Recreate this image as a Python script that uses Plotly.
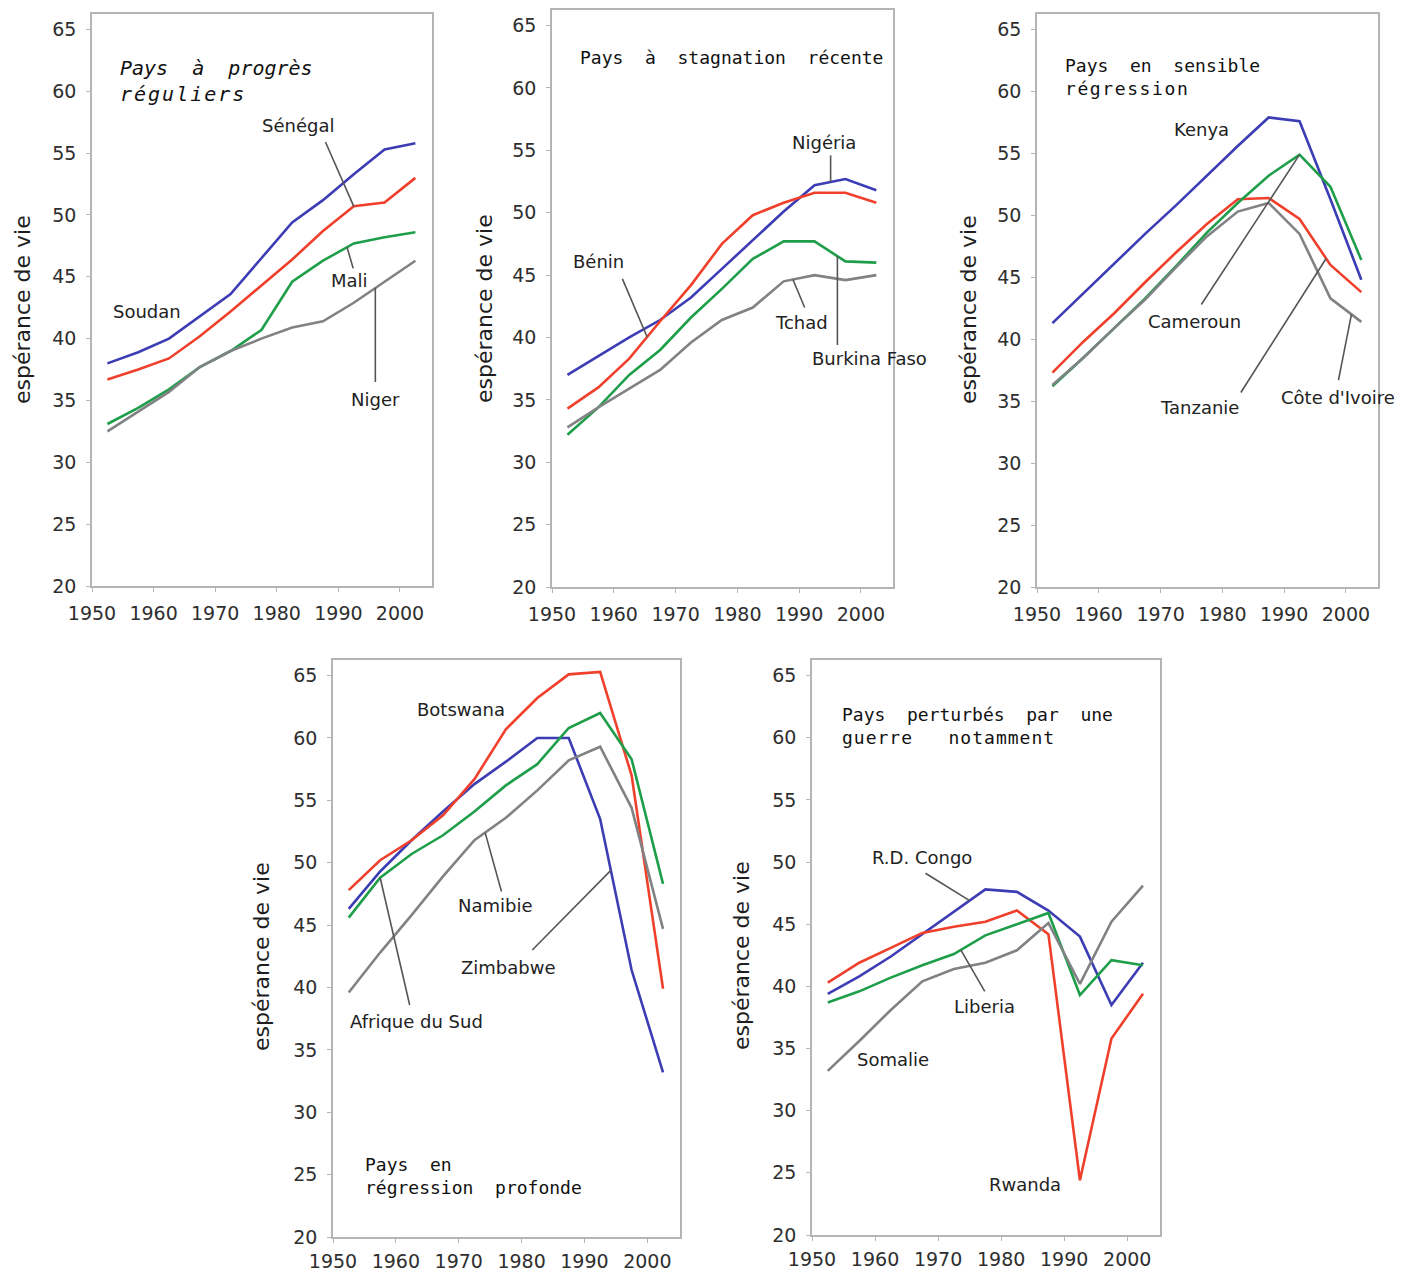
import numpy as np
import plotly.graph_objects as go

years = [1952.5, 1957.5, 1962.5, 1967.5, 1972.5, 1977.5, 1982.5, 1987.5, 1992.5, 1997.5, 2002.5]
x_ticks = [1950, 1960, 1970, 1980, 1990, 2000]
y_ticks = [20, 25, 30, 35, 40, 45, 50, 55, 60, 65]

# Panel 1 : Pays à progrès réguliers
soudan = [38.0, 38.9, 40.0, 41.8, 43.6, 46.5, 49.4, 51.2, 53.3, 55.3, 55.8]
senegal = [36.7, 37.5, 38.4, 40.2, 42.2, 44.3, 46.4, 48.7, 50.7, 51.0, 53.0]
mali = [33.1, 34.4, 35.9, 37.7, 39.0, 40.7, 44.6, 46.3, 47.7, 48.2, 48.6]
niger = [32.5, 34.1, 35.7, 37.7, 39.0, 40.0, 40.9, 41.4, 42.9, 44.6, 46.3]

# Panel 2 : Pays à stagnation récente
nigeria = [37.0, 38.5, 40.0, 41.4, 43.2, 45.5, 47.8, 50.1, 52.2, 52.7, 51.8]
benin = [34.3, 36.0, 38.3, 41.3, 44.2, 47.5, 49.8, 50.8, 51.6, 51.6, 50.8]
burkina = [32.2, 34.4, 37.0, 39.0, 41.6, 43.9, 46.3, 47.7, 47.7, 46.1, 46.0]
tchad = [32.8, 34.4, 35.9, 37.4, 39.6, 41.4, 42.4, 44.5, 45.0, 44.6, 45.0]

# Panel 3 : Pays en sensible régression
kenya = [41.3, 43.7, 46.1, 48.5, 50.8, 53.2, 55.6, 57.9, 57.6, 51.3, 44.8]
tanzanie = [37.3, 39.8, 42.1, 44.6, 47.0, 49.3, 51.3, 51.4, 49.7, 46.0, 43.8]
cameroun = [36.2, 38.5, 40.9, 43.3, 45.9, 48.6, 51.0, 53.2, 54.9, 52.3, 46.4]
cote_ivoire = [36.3, 38.5, 40.9, 43.2, 45.8, 48.3, 50.3, 51.0, 48.5, 43.3, 41.4]

# Panel 4 : Pays en régression profonde
zimbabwe = [46.3, 49.3, 51.8, 54.1, 56.3, 58.1, 60.0, 60.0, 53.5, 41.4, 33.2]
botswana = [47.8, 50.2, 51.8, 53.8, 56.7, 60.7, 63.2, 65.1, 65.3, 57.0, 39.9]
afrique_sud = [45.6, 48.8, 50.7, 52.2, 54.1, 56.2, 57.9, 60.8, 62.0, 58.3, 48.3]
namibie = [39.6, 42.8, 45.8, 48.9, 51.8, 53.6, 55.8, 58.2, 59.3, 54.4, 44.7]

# Panel 5 : Pays perturbés par une guerre notamment
rd_congo = [39.4, 40.8, 42.4, 44.2, 46.0, 47.8, 47.6, 46.1, 44.0, 38.5, 41.9]
rwanda = [40.3, 41.9, 43.1, 44.3, 44.8, 45.2, 46.1, 44.2, 24.4, 35.8, 39.4]
liberia = [38.7, 39.6, 40.7, 41.7, 42.6, 44.1, 45.0, 45.9, 39.3, 42.1, 41.7]
somalie = [33.2, 35.6, 38.1, 40.4, 41.4, 41.9, 42.9, 45.1, 40.2, 45.2, 48.1]

BLUE = "#3c3cb4"
RED = "#f0402c"
GREEN = "#1f9e4a"
GRAY = "#808284"
PTR = "#555555"
TXT = "#222222"

W, H = 1403, 1263
OFF = 8


def fx(X):
    return (X - OFF) / W


def fy(Y):
    return 1 - (Y - OFF) / H


panels = [
    dict(
        dom=(92, 432, 14, 586), standoff=5,
        series=[("Soudan", soudan, BLUE), ("Sénégal", senegal, RED),
                ("Mali", mali, GREEN), ("Niger", niger, GRAY)],
        labels=[("Soudan", 1959.0, 42.2), ("Sénégal", 1983.5, 57.2),
                ("Mali", 1991.8, 44.7), ("Niger", 1996.0, 35.1)],
        pointers=[(senegal, 1992.5, 1987.9, 55.9), (mali, 1991.4, 1992.4, 45.7),
                  (niger, 1996.0, 1996.0, 36.5)],
        ytitle=(22, 310),
        title=("<i>Pays\u00a0\u00a0à\u00a0\u00a0progrès</i><br><i><span style='letter-spacing:2px'>réguliers</span></i>", 118, 81, 20),
    ),
    dict(
        dom=(552, 893, 10, 587), standoff=5,
        series=[("Nigéria", nigeria, BLUE), ("Bénin", benin, RED),
                ("Burkina Faso", burkina, GREEN), ("Tchad", tchad, GRAY)],
        labels=[("Bénin", 1957.5, 46.1), ("Nigéria", 1994.0, 55.6),
                ("Tchad", 1990.4, 41.2), ("Burkina Faso", 2001.4, 38.3)],
        pointers=[(benin, 1965.4, 1961.4, 44.7), (nigeria, 1995.1, 1995.1, 54.6),
                  (tchad, 1989.0, 1990.9, 42.4), (burkina, 1996.2, 1996.2, 39.4)],
        ytitle=(484, 308),
        title=("Pays\u00a0\u00a0à\u00a0\u00a0stagnation\u00a0\u00a0récente", 578, 57, 18),
    ),
    dict(
        dom=(1037, 1378, 14, 587), standoff=5,
        series=[("Kenya", kenya, BLUE), ("Tanzanie", tanzanie, RED),
                ("Cameroun", cameroun, GREEN), ("Côte d'Ivoire", cote_ivoire, GRAY)],
        labels=[("Kenya", 1976.6, 56.9), ("Cameroun", 1975.5, 41.4),
                ("Tanzanie", 1976.3, 34.5), ("Côte d'Ivoire", 1998.8, 35.3)],
        pointers=[(cameroun, 1992.5, 1976.6, 42.8), (tanzanie, 1996.8, 1983.0, 35.7),
                  (cote_ivoire, 2000.9, 1998.8, 36.7)],
        ytitle=(968, 310),
        title=("Pays\u00a0\u00a0en\u00a0\u00a0sensible<br><span style='letter-spacing:1.6px'>régression</span>", 1063, 77, 18),
    ),
    dict(
        dom=(333, 680, 660, 1237), standoff=2,
        series=[("Zimbabwe", zimbabwe, BLUE), ("Botswana", botswana, RED),
                ("Afrique du Sud", afrique_sud, GREEN), ("Namibie", namibie, GRAY)],
        labels=[("Botswana", 1970.3, 62.3), ("Namibie", 1975.8, 46.6),
                ("Zimbabwe", 1977.9, 41.6), ("Afrique du Sud", 1963.3, 37.3)],
        pointers=[(namibie, 1974.2, 1976.8, 47.7), (zimbabwe, 1994.2, 1981.7, 43.0),
                  (afrique_sud, 1957.5, 1962.2, 38.6)],
        ytitle=(262, 956),
        title=("Pays\u00a0\u00a0en<br>régression\u00a0\u00a0profonde", 363, 1176, 18),
    ),
    dict(
        dom=(812, 1160, 660, 1235), standoff=2,
        series=[("R.D. Congo", rd_congo, BLUE), ("Rwanda", rwanda, RED),
                ("Liberia", liberia, GREEN), ("Somalie", somalie, GRAY)],
        labels=[("R.D. Congo", 1967.5, 50.4), ("Liberia", 1977.3, 38.4),
                ("Somalie", 1962.9, 34.1), ("Rwanda", 1983.8, 24.1)],
        pointers=[(rd_congo, 1975.0, 1968.0, 49.1), (liberia, 1973.6, 1977.4, 39.6)],
        ytitle=(742, 956),
        title=("Pays\u00a0\u00a0perturbés\u00a0\u00a0par\u00a0\u00a0une<br><span style='letter-spacing:1px'>guerre\u00a0\u00a0\u00a0notamment</span>", 840, 726, 18),
    ),
]

fig = go.Figure()
annotations = []
shapes = []
layout_axes = {}

for i, p in enumerate(panels, start=1):
    xa = "x" if i == 1 else f"x{i}"
    ya = "y" if i == 1 else f"y{i}"
    x0, x1, y0, y1 = p["dom"]
    axis_common = dict(
        showline=True, mirror=True, linecolor="#b5b5b5", linewidth=1.5,
        ticks="outside", ticklen=4, tickcolor="#b5b5b5", showgrid=False,
        zeroline=False, tickfont=dict(family="DejaVu Sans", size=19, color="#2e2e2e"),
        fixedrange=True, automargin=False,
    )
    layout_axes[f"xaxis{'' if i == 1 else i}"] = dict(
        domain=[fx(x0), fx(x1)], range=[1950, 2005.2], tickvals=x_ticks,
        anchor=ya, ticklabelstandoff=p["standoff"], **axis_common)
    layout_axes[f"yaxis{'' if i == 1 else i}"] = dict(
        domain=[fy(y1), fy(y0)], range=[20, 66.25], tickvals=y_ticks,
        anchor=xa, ticklabelstandoff=6, **axis_common)

    # draw order: blue, red, green, gray
    for name, vals, col in p["series"]:
        fig.add_trace(go.Scatter(x=years, y=vals, mode="lines", name=name,
                                 line=dict(color=col, width=2.6),
                                 xaxis=xa, yaxis=ya, showlegend=False))

    for text, lx, ly in p["labels"]:
        annotations.append(dict(text=text, x=lx, y=ly, xref=xa, yref=ya,
                                showarrow=False, xanchor="center", yanchor="middle",
                                font=dict(family="DejaVu Sans", size=18, color=TXT)))

    for vals, hx, tx, ty in p["pointers"]:
        hy = float(np.interp(hx, years, vals))
        shapes.append(dict(type="line", xref=xa, yref=ya, x0=tx, y0=ty, x1=hx, y1=hy,
                           line=dict(color=PTR, width=1.6)))

    tx, ty = p["ytitle"]
    annotations.append(dict(text="espérance de vie", x=fx(tx), y=fy(ty), xref="paper",
                            yref="paper", showarrow=False, textangle=-90,
                            xanchor="center", yanchor="middle",
                            font=dict(family="DejaVu Sans", size=22, color="#1e1e1e")))

    ttext, ttx, tty, tsize = p["title"]
    annotations.append(dict(text=ttext, x=fx(ttx), y=fy(tty), xref="paper", yref="paper",
                            showarrow=False, xanchor="left", yanchor="middle", align="left",
                            font=dict(family="DejaVu Sans Mono", size=tsize, color="#111111")))

fig.update_layout(
    width=W, height=H, margin=dict(l=0, r=0, t=0, b=0, autoexpand=False),
    paper_bgcolor="white", plot_bgcolor="white",
    annotations=annotations, shapes=shapes, showlegend=False,
    **layout_axes,
)

fig.write_html("out.html")
